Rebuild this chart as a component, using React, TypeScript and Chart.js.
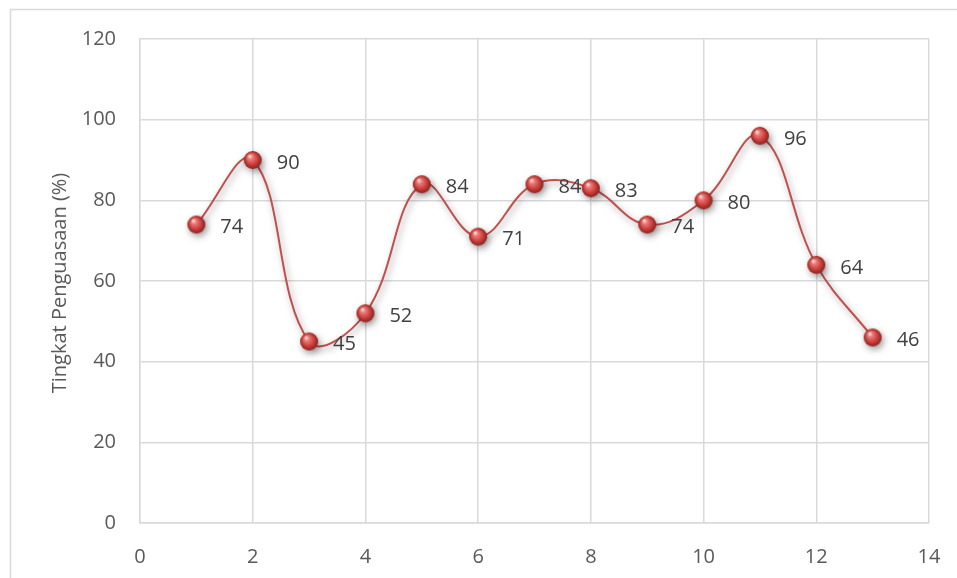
import React, { useEffect, useRef } from "react";
import { Chart, registerables } from "chart.js";

Chart.register(...registerables);

const xValues = [1, 2, 3, 4, 5, 6, 7, 8, 9, 10, 11, 12, 13];
const yValues = [74, 90, 45, 52, 84, 71, 84, 83, 74, 80, 96, 64, 46];
const yAxisTitle = "Tingkat Penguasaan (%)";
const FONT = "'Open Sans', 'Liberation Sans', sans-serif";

function makeSphere(r: number): HTMLCanvasElement {
  const c = document.createElement("canvas");
  const s = r * 2 + 2;
  c.width = s;
  c.height = s;
  const ctx = c.getContext("2d")!;
  const cx = s / 2;
  const g = ctx.createRadialGradient(cx - r * 0.35, cx - r * 0.45, r * 0.05, cx, cx, r);
  g.addColorStop(0, "#fde0df");
  g.addColorStop(0.25, "#ea7a77");
  g.addColorStop(0.65, "#c9403d");
  g.addColorStop(1, "#8e1f1c");
  ctx.fillStyle = g;
  ctx.beginPath();
  ctx.arc(cx, cx, r, 0, Math.PI * 2);
  ctx.fill();
  return c;
}

export default function App() {
  const ref = useRef<HTMLCanvasElement>(null);
  useEffect(() => {
    const canvas = ref.current!;
    const sphere = makeSphere(9);

    const framePlugin = {
      id: "frame",
      beforeDraw(chart: any) {
        const ctx = chart.ctx;
        ctx.save();
        ctx.fillStyle = "#ffffff";
        ctx.fillRect(0, 0, chart.width, chart.height);
        ctx.strokeStyle = "#d9d9d9";
        ctx.lineWidth = 1.5;
        ctx.beginPath();
        ctx.moveTo(10.5, chart.height);
        ctx.lineTo(10.5, 9.5);
        ctx.lineTo(chart.width, 9.5);
        ctx.stroke();
        const area = chart.chartArea;
        ctx.translate(60, (area.top + area.bottom) / 2 + 2);
        ctx.rotate(-Math.PI / 2);
        ctx.fillStyle = "#595959";
        ctx.font = `20px ${FONT}`;
        ctx.textAlign = "center";
        ctx.textBaseline = "middle";
        ctx.fillText(yAxisTitle, 0, 0);
        ctx.restore();
      },
    };

    const shadowPlugin = {
      id: "shadow",
      beforeDatasetsDraw(chart: any) {
        const ctx = chart.ctx;
        ctx.save();
        ctx.shadowColor = "rgba(0,0,0,0.4)";
        ctx.shadowBlur = 7;
        ctx.shadowOffsetX = 2;
        ctx.shadowOffsetY = 3;
      },
      afterDatasetsDraw(chart: any) {
        chart.ctx.restore();
      },
    };

    const labelPlugin = {
      id: "labels",
      afterDatasetsDraw(chart: any) {
        const ctx = chart.ctx;
        const meta = chart.getDatasetMeta(0);
        ctx.save();
        ctx.fillStyle = "#404040";
        ctx.font = `20px ${FONT}`;
        ctx.textAlign = "left";
        ctx.textBaseline = "middle";
        meta.data.forEach((pt: any, i: number) => {
          ctx.fillText(String(yValues[i]), pt.x + 24, pt.y + 3);
        });
        ctx.restore();
      },
    };

    const chart = new Chart(canvas, {
      type: "scatter",
      data: {
        datasets: [
          {
            data: xValues.map((x, i) => ({ x, y: yValues[i] })),
            showLine: true,
            borderColor: "#c0504d",
            borderWidth: 2,
            tension: 0.4,
            pointStyle: sphere as any,
            pointRadius: 9,
            pointHoverRadius: 9,
          },
        ],
      },
      options: {
        animation: false,
        responsive: false,
        devicePixelRatio: 1,
        layout: { padding: { left: 0, top: 39, right: 28, bottom: 0 } },
        plugins: {
          legend: { display: false },
          tooltip: { enabled: false },
          title: { display: false },
        },
        scales: {
          x: {
            type: "linear",
            min: 0,
            max: 14,
            ticks: {
              stepSize: 2,
              padding: 22,
              color: "#595959",
              font: { family: FONT, size: 20 },
            },
            grid: { color: "#d9d9d9", lineWidth: 1.5, drawTicks: false },
            border: { color: "#d9d9d9", width: 1.5 },
            afterFit(scale: any) {
              scale.height = 55;
              scale.paddingLeft = 0;
              scale.paddingRight = 0;
            },
          },
          y: {
            type: "linear",
            min: 0,
            max: 120,
            ticks: {
              stepSize: 20,
              padding: 24,
              color: "#595959",
              font: { family: FONT, size: 20 },
            },
            grid: { color: "#d9d9d9", lineWidth: 1.5, drawTicks: false },
            border: { color: "#d9d9d9", width: 1.5 },
            afterFit(scale: any) {
              scale.width = 140;
              scale.paddingTop = 0;
              scale.paddingBottom = 0;
            },
          },
        },
      },
      plugins: [framePlugin, shadowPlugin, labelPlugin],
    });
    return () => chart.destroy();
  }, []);

  return (
    <div style={{ position: "fixed", left: 0, top: 0, width: 957, height: 578, background: "#fff" }}>
      <canvas ref={ref} width={957} height={578} style={{ width: 957, height: 578, display: "block" }} />
    </div>
  );
}
